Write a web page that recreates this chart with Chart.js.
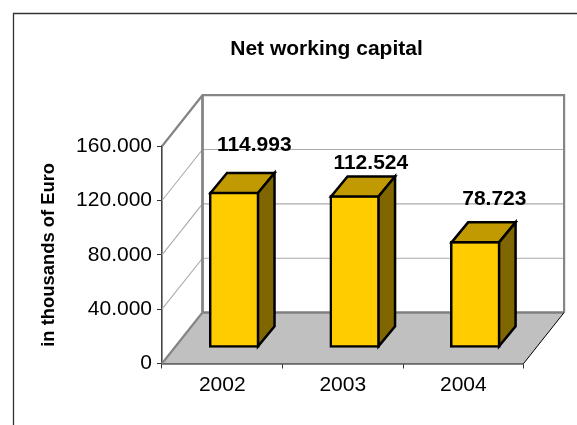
<!DOCTYPE html>
<html>
<head>
<meta charset="utf-8">
<style>html,body{margin:0;padding:0;background:#fff}canvas{display:block}</style>
<script src="https://cdn.jsdelivr.net/npm/chart.js@4"></script>
</head>
<body>
<canvas id="chart" width="577" height="425"></canvas>
<script>
const years = ['2002', '2003', '2004'];
const netWorkingCapital = [114993, 112524, 78723];
const yTickStep = 40000;
const yMax = 160000;

// Thousands are written with a dot separator: 114.993
const dotted = v => v === 0 ? '0' : (v / 1000).toFixed(3);

// Oblique projection used for the box and the columns
const wallDepth = { x: 40.5, y: -51 };
const barShift = { x: 12, y: -15.5 };
const barDepth = { x: 16.5, y: -20 };
// Each value label sits at its own distance from its column
const labelNudge = [{ x: 20, y: -48 }, { x: 16, y: -33 }, { x: 19, y: -43 }];

const line = (ctx, pts, color, width) => {
  ctx.beginPath();
  pts.forEach((p, i) => i ? ctx.lineTo(p[0], p[1]) : ctx.moveTo(p[0], p[1]));
  ctx.strokeStyle = color;
  ctx.lineWidth = width;
  ctx.stroke();
};
const face = (ctx, pts, fill, stroke, width) => {
  ctx.beginPath();
  pts.forEach((p, i) => i ? ctx.lineTo(p[0], p[1]) : ctx.moveTo(p[0], p[1]));
  ctx.closePath();
  ctx.fillStyle = fill;
  ctx.fill();
  if (stroke) {
    ctx.strokeStyle = stroke;
    ctx.lineWidth = width;
    ctx.lineJoin = 'miter';
    ctx.stroke();
  }
};

const box3d = {
  id: 'box3d',
  afterLayout(chart) {
    // Centre the title over the box rather than the whole canvas
    chart.titleBlock.left = 76;
    chart.titleBlock.right = 577;
  },
  beforeDraw(chart) {
    const { ctx } = chart;
    ctx.save();
    line(ctx, [[13.5, 425], [13.5, 13.5], [577, 13.5]], '#333333', 1.3);
    ctx.restore();
  },
  beforeDatasetsDraw(chart) {
    const { ctx, scales: { x, y } } = chart;
    const l = x.left, r = x.right, b = y.bottom, t = y.top;
    const dx = wallDepth.x, dy = wallDepth.y;
    ctx.save();
    // Floor
    face(ctx, [[l, b], [l + dx, b + dy], [r + dx, b + dy], [r, b]], '#c0c0c0');
    // Grid lines along the side wall and the back wall
    y.ticks.forEach(tick => {
      if (tick.value === 0 || tick.value === yMax) return;
      const py = y.getPixelForValue(tick.value);
      line(ctx, [[l, py], [l + dx, py + dy], [r + dx, py + dy]], '#ababab', 1.1);
    });
    // Box outline
    line(ctx, [[l, t], [l + dx, t + dy], [r + dx, t + dy], [r + dx, b + dy]], '#858585', 2.2);
    line(ctx, [[l + dx, t + dy], [l + dx, b + dy]], '#858585', 2.8);
    line(ctx, [[l + dx, b + dy], [r + dx, b + dy]], '#808080', 2.6);
    line(ctx, [[l, b], [l + dx, b + dy]], '#858585', 2.2);
    line(ctx, [[r, b], [r + dx, b + dy]], '#000000', 1);
    ctx.restore();
  },
  beforeDatasetDraw(chart) {
    // Columns stand part-way back on the floor
    chart.ctx.save();
    chart.ctx.translate(barShift.x, barShift.y);
  },
  afterDatasetDraw(chart) {
    chart.ctx.restore();
  },
  afterDatasetsDraw(chart) {
    const { ctx } = chart;
    const meta = chart.getDatasetMeta(0);
    ctx.save();
    meta.data.forEach((bar, i) => {
      const half = bar.width / 2 - 1.25;
      const cx = bar.x + barShift.x;
      const top = bar.y + barShift.y + 1.25;
      const base = bar.base + barShift.y - 1.25;
      const ddx = barDepth.x, ddy = barDepth.y;
      face(ctx, [[cx - half, top], [cx - half + ddx, top + ddy], [cx + half + ddx, top + ddy], [cx + half, top]], '#c09a00', '#000000', 2.5);
      face(ctx, [[cx + half, top], [cx + half + ddx, top + ddy], [cx + half + ddx, base + ddy], [cx + half, base]], '#806600', '#000000', 2.5);
      ctx.font = 'bold 21px "Liberation Sans", Arial, sans-serif';
      ctx.fillStyle = '#000000';
      ctx.textAlign = 'center';
      ctx.textBaseline = 'middle';
      ctx.fillText(dotted(netWorkingCapital[i]), cx + labelNudge[i].x, top + labelNudge[i].y);
    });
    ctx.restore();
  }
};

new Chart(document.getElementById('chart'), {
  type: 'bar',
  data: {
    labels: years,
    datasets: [{
      data: netWorkingCapital,
      backgroundColor: '#ffcc00',
      borderColor: '#000000',
      borderWidth: 2.5,
      borderSkipped: false,
      barThickness: 50,
      clip: false
    }]
  },
  plugins: [box3d],
  options: {
    responsive: false,
    animation: false,
    layout: { padding: { left: 0, top: 0, right: 53.4, bottom: 0 } },
    plugins: {
      legend: { display: false },
      tooltip: { enabled: false },
      title: {
        display: true,
        text: 'Net working capital',
        color: '#000000',
        font: { family: '"Liberation Sans", Arial, sans-serif', size: 21, weight: 'bold' },
        padding: { top: 37, bottom: 84 }
      }
    },
    scales: {
      x: {
        afterFit: s => { s.height = 61.5; },
        border: { color: '#111111', width: 1.4 },
        grid: { drawOnChartArea: false, drawTicks: true, tickLength: 5, tickColor: '#333333', tickWidth: 1 },
        ticks: {
          color: '#000000', padding: 4, maxRotation: 0,
          font: { family: '"Liberation Sans", Arial, sans-serif', size: 21 }
        }
      },
      y: {
        min: 0,
        max: yMax,
        afterFit: s => { s.width = 162; },
        border: { color: '#444444', width: 1.6 },
        grid: { drawOnChartArea: false, drawTicks: true, tickLength: 5, tickColor: '#333333', tickWidth: 1 },
        ticks: {
          stepSize: yTickStep,
          color: '#000000',
          padding: 5,
          callback: dotted,
          font: { family: '"Liberation Sans", Arial, sans-serif', size: 21 }
        },
        title: {
          display: true,
          text: 'in thousands of Euro',
          color: '#000000',
          font: { family: '"Liberation Sans", Arial, sans-serif', size: 18.4, weight: 'bold' },
          padding: { top: 38, bottom: 0 }
        }
      }
    }
  }
});
</script>
</body>
</html>
